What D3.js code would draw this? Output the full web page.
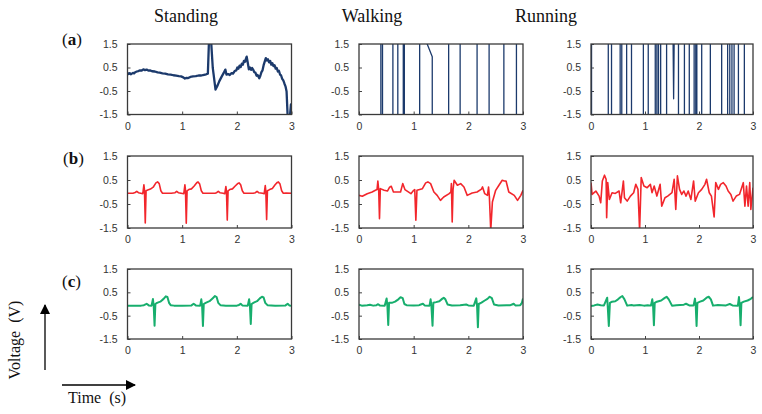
<!DOCTYPE html>
<html><head><meta charset="utf-8">
<script src="https://cdn.jsdelivr.net/npm/d3@7"></script>
<style>body{margin:0;background:#fff}svg{display:block}</style>
</head><body>
<svg id="c" width="762" height="414"></svg>
<script>
const activities = ["Standing","Walking","Running"];
const rowLabels = ["a","b","c"];
const xTicks = [0,1,2,3];
const yTicks = [1.5,0.5,-0.5,-1.5];
const yTickLabels = ["1.5","0.5","-0.5","-1.5"];

// Row (a) raw signals
const standingA = [[0,0.27],[0.02,0.22],[0.04,0.26],[0.06,0.21],[0.08,0.24],[0.1,0.27],[0.12,0.25],[0.14,0.3],[0.17,0.33],[0.2,0.35],[0.23,0.38],[0.26,0.37],[0.29,0.42],[0.32,0.39],[0.35,0.41],[0.38,0.37],[0.41,0.38],[0.45,0.34],[0.5,0.33],[0.55,0.29],[0.59,0.28],[0.64,0.25],[0.69,0.24],[0.74,0.21],[0.79,0.2],[0.84,0.17],[0.89,0.15],[0.94,0.13],[0.98,0.12],[1.02,0.08],[1.05,0.03],[1.08,0.06],[1.11,0.05],[1.15,0.1],[1.2,0.12],[1.25,0.13],[1.3,0.16],[1.35,0.16],[1.4,0.19],[1.44,0.21],[1.47,0.24],[1.49,1.6],[1.53,1.6],[1.56,0.48],[1.61,-0.44],[1.65,-0.25],[1.68,-0.08],[1.72,0.1],[1.76,0.27],[1.79,0.41],[1.81,0.2],[1.84,0.22],[1.87,0.18],[1.9,0.26],[1.93,0.24],[1.96,0.35],[1.99,0.38],[2.01,0.5],[2.03,0.45],[2.05,0.58],[2.07,0.52],[2.09,0.66],[2.11,0.62],[2.13,0.78],[2.15,0.74],[2.17,0.9],[2.18,0.96],[2.2,0.7],[2.22,0.42],[2.24,0.5],[2.26,0.4],[2.28,0.48],[2.3,0.4],[2.32,0.3],[2.34,0.28],[2.36,0.15],[2.38,0.18],[2.41,0.04],[2.43,0.15],[2.45,0.3],[2.47,0.38],[2.49,0.6],[2.51,0.75],[2.53,0.9],[2.55,0.8],[2.57,0.85],[2.59,0.72],[2.61,0.78],[2.63,0.62],[2.65,0.68],[2.67,0.56],[2.69,0.6],[2.71,0.45],[2.73,0.48],[2.75,0.33],[2.77,0.36],[2.79,0.2],[2.81,0.16],[2.83,0.02],[2.85,-0.05],[2.87,-0.18],[2.89,-0.3],[2.91,-0.52],[2.93,-1.6],[2.97,-1.6],[2.99,-1.07],[3,-1.6]];
const walkingA = [[0,-1.6],[0.40,-1.6],[0.40,1.6],[0.43,1.6],[0.43,-1.6],[0.62,-1.6],[0.62,1.6],[0.71,1.6],[0.71,-1.6],[0.81,-1.6],[0.81,1.6],[0.83,1.6],[0.83,-1.6],[1.11,-1.6],[1.11,1.6],[1.23,1.6],[1.34,0.96],[1.34,-1.6],[1.64,-1.6],[1.64,1.6],[1.85,1.6],[1.85,-1.6],[2.16,-1.6],[2.16,1.6],[2.38,1.6],[2.38,-1.6],[2.65,-1.6],[2.65,1.6],[2.88,1.6],[2.88,-1.6],[3,-1.6]];
const runningA = [[0,1.6],[0.01,1.6],[0.01,-1.6],[0.32,-1.6],[0.32,1.6],[0.38,1.6],[0.38,-1.6],[0.54,-1.6],[0.54,1.6],[0.57,1.6],[0.57,-1.6],[0.66,-1.6],[0.66,1.6],[0.75,1.6],[0.75,-1.6],[0.97,-1.6],[0.97,1.6],[1.06,1.6],[1.06,-1.6],[1.19,-1.6],[1.19,1.6],[1.22,1.6],[1.22,-1.6],[1.25,-1.6],[1.25,1.6],[1.29,1.6],[1.29,-1.6],[1.40,-1.6],[1.40,1.6],[1.52,1.6],[1.53,-0.83],[1.54,1.6],[1.62,1.6],[1.62,-1.6],[1.73,-1.6],[1.73,1.6],[1.82,1.6],[1.82,-1.6],[1.91,-1.6],[1.91,1.6],[1.94,1.6],[1.94,-1.6],[1.96,-1.6],[1.96,1.6],[2.05,1.6],[2.05,-1.6],[2.21,-1.6],[2.21,1.6],[2.42,1.6],[2.42,-1.6],[2.53,-1.6],[2.53,1.6],[2.57,1.6],[2.57,-1.6],[2.61,-1.6],[2.61,1.6],[2.65,1.6],[2.65,-1.6],[2.73,-1.6],[2.73,1.6],[2.84,1.6],[2.84,-1.6],[3,-1.6]];

// Row (b)
const standingB = [[0,-0.05],[0.1,-0.05],[0.14,-0.02],[0.17,0.03],[0.2,-0.03],[0.24,-0.05],[0.28,-0.07],[0.3,0.3],[0.31,0.1],[0.325,-1.29],[0.34,0.05],[0.37,0.08],[0.42,0.12],[0.47,0.2],[0.52,0.38],[0.55,0.42],[0.58,0.35],[0.61,0.05],[0.64,-0.05],[0.8,-0.05],[0.87,-0.03],[0.9,0.03],[0.93,-0.03],[0.98,-0.05],[1.03,-0.07],[1.05,0.3],[1.06,0.1],[1.075,-1.3],[1.09,0.05],[1.12,0.1],[1.17,0.13],[1.22,0.25],[1.27,0.4],[1.29,0.42],[1.32,0.33],[1.35,0.05],[1.38,-0.05],[1.6,-0.05],[1.63,-0.03],[1.66,0.03],[1.69,-0.03],[1.75,-0.05],[1.78,-0.07],[1.8,0.23],[1.81,0.05],[1.825,-1.17],[1.84,0.05],[1.87,0.1],[1.92,0.13],[1.97,0.25],[2.02,0.36],[2.04,0.38],[2.07,0.3],[2.1,0.05],[2.13,-0.05],[2.3,-0.05],[2.34,-0.03],[2.37,0.03],[2.4,-0.03],[2.47,-0.05],[2.5,-0.07],[2.52,0.27],[2.53,0.05],[2.545,-1.15],[2.56,0.05],[2.6,0.1],[2.65,0.15],[2.7,0.3],[2.74,0.4],[2.76,0.42],[2.79,0.33],[2.82,0.05],[2.85,-0.05],[2.9,-0.04],[3,-0.05]];
const walkingB = [[0,-0.14],[0.06,-0.18],[0.15,-0.07],[0.24,0.0],[0.3,0.07],[0.33,0.1],[0.345,0.46],[0.36,0.1],[0.375,-1.11],[0.39,0.14],[0.46,0.07],[0.52,0.04],[0.56,0.2],[0.59,0.24],[0.63,0.0],[0.76,0.0],[0.8,0.35],[0.84,0.1],[0.95,-0.07],[1.0,0.07],[1.02,0.1],[1.04,-1.18],[1.06,0.07],[1.16,0.14],[1.22,0.38],[1.26,0.42],[1.31,0.35],[1.37,0.0],[1.43,-0.14],[1.49,-0.35],[1.55,-0.21],[1.65,-0.07],[1.68,0.0],[1.69,0.35],[1.705,-1.25],[1.72,0.1],[1.74,0.49],[1.8,0.28],[1.86,0.35],[1.92,0.21],[1.98,-0.14],[2.07,-0.04],[2.16,0.0],[2.24,0.12],[2.26,0.21],[2.3,-0.07],[2.35,-0.14],[2.37,0.21],[2.385,-0.2],[2.41,-1.6],[2.44,-0.42],[2.5,0.07],[2.56,0.28],[2.62,0.49],[2.66,0.46],[2.69,0.46],[2.74,0.0],[2.84,-0.14],[2.9,-0.35],[2.96,-0.14],[3.0,0.07]];
const runningB = [[0,0.39],[0.02,-0.1],[0.09,0.04],[0.15,-0.17],[0.18,-0.45],[0.21,0.46],[0.25,0.7],[0.28,0.53],[0.29,-1.07],[0.31,0.39],[0.34,-0.31],[0.39,-0.03],[0.45,-0.06],[0.52,0.04],[0.55,-0.45],[0.6,0.46],[0.62,-0.24],[0.67,-0.38],[0.73,-0.17],[0.79,-0.03],[0.83,0.32],[0.87,0.11],[0.9,-1.6],[0.93,0.6],[0.98,0.25],[1.04,0.18],[1.1,0.32],[1.13,-0.03],[1.17,0.25],[1.22,-0.17],[1.28,0.32],[1.31,-0.59],[1.37,-0.24],[1.42,-0.17],[1.5,-0.03],[1.54,0.53],[1.57,-0.73],[1.6,0.67],[1.64,0.11],[1.68,-0.1],[1.72,0.04],[1.76,-0.17],[1.8,0.04],[1.85,-0.31],[1.9,0.46],[1.93,-0.38],[1.99,-0.03],[2.05,0.11],[2.11,0.32],[2.14,0.53],[2.19,-0.03],[2.23,-0.17],[2.28,-1.04],[2.31,0.39],[2.36,0.11],[2.4,0.32],[2.45,0.39],[2.5,0.25],[2.54,0.04],[2.59,-0.1],[2.63,-0.38],[2.69,-0.17],[2.75,-0.1],[2.82,0.39],[2.85,-0.59],[2.88,0.25],[2.91,-0.59],[2.94,0.39],[2.96,-0.73],[3.0,0.18]];

// Row (c)
const standingC = [[0,-0.07],[0.25,-0.07],[0.3,-0.05],[0.35,0.01],[0.39,-0.06],[0.44,-0.07],[0.465,0.21],[0.48,-0.1],[0.495,-0.93],[0.51,0.0],[0.54,0.05],[0.6,0.1],[0.66,0.22],[0.7,0.33],[0.73,0.3],[0.76,0.05],[0.79,-0.05],[0.85,-0.07],[1.0,-0.07],[1.17,-0.06],[1.21,0.01],[1.25,-0.06],[1.33,-0.07],[1.35,0.2],[1.365,-0.1],[1.38,-0.94],[1.395,0.0],[1.43,0.05],[1.5,0.12],[1.56,0.25],[1.6,0.34],[1.63,0.3],[1.66,0.05],[1.7,-0.05],[1.8,-0.07],[2.0,-0.07],[2.04,-0.04],[2.07,0.01],[2.1,-0.06],[2.2,-0.07],[2.225,0.2],[2.24,-0.1],[2.255,-0.86],[2.27,0.0],[2.31,0.06],[2.37,0.12],[2.42,0.24],[2.46,0.31],[2.49,0.28],[2.52,0.05],[2.56,-0.05],[2.7,-0.07],[2.89,-0.06],[2.93,0.01],[2.96,-0.06],[3,-0.07]];
const walkingC = [[0,-0.03],[0.05,-0.07],[0.15,-0.05],[0.2,-0.03],[0.26,-0.07],[0.32,-0.05],[0.35,-0.01],[0.38,-0.06],[0.47,-0.07],[0.505,0.24],[0.52,-0.1],[0.535,-0.9],[0.55,0.05],[0.6,0.05],[0.66,0.1],[0.72,0.2],[0.76,0.29],[0.8,0.25],[0.83,0.0],[0.87,-0.05],[1.0,-0.06],[1.1,-0.05],[1.13,-0.02],[1.17,0.01],[1.2,-0.06],[1.29,-0.07],[1.31,0.2],[1.325,-0.1],[1.345,-0.93],[1.36,0.05],[1.41,0.08],[1.47,0.12],[1.52,0.22],[1.55,0.27],[1.58,0.2],[1.62,-0.02],[1.7,-0.06],[1.85,-0.05],[1.96,-0.02],[2.0,-0.06],[2.1,-0.07],[2.145,0.24],[2.16,-0.1],[2.175,-1.0],[2.19,0.0],[2.24,0.06],[2.3,0.15],[2.35,0.22],[2.39,0.31],[2.43,0.25],[2.47,-0.02],[2.55,-0.06],[2.7,-0.05],[2.77,-0.05],[2.8,-0.02],[2.83,0.01],[2.86,-0.06],[2.95,-0.05],[2.98,0.05],[3.0,0.24]];
const runningC = [[0,-0.09],[0.06,-0.06],[0.12,-0.02],[0.18,-0.05],[0.24,-0.06],[0.3,0.27],[0.31,-0.1],[0.33,-0.94],[0.35,0.05],[0.39,0.1],[0.45,0.12],[0.5,0.2],[0.55,0.3],[0.58,0.34],[0.62,0.2],[0.67,-0.07],[0.75,-0.04],[0.79,-0.06],[0.9,-0.04],[0.98,-0.07],[1.05,-0.05],[1.11,-0.07],[1.135,0.2],[1.15,-0.1],[1.165,-0.91],[1.18,0.05],[1.22,0.1],[1.3,0.15],[1.36,0.25],[1.4,0.31],[1.44,0.2],[1.5,-0.07],[1.58,-0.05],[1.65,-0.04],[1.72,-0.03],[1.76,0.01],[1.82,-0.06],[1.9,-0.06],[1.925,0.23],[1.94,-0.1],[1.955,-0.94],[1.97,0.05],[2.02,0.1],[2.08,0.15],[2.14,0.27],[2.18,0.31],[2.22,0.2],[2.26,-0.07],[2.35,-0.04],[2.42,-0.05],[2.5,-0.06],[2.57,0.0],[2.62,-0.06],[2.72,-0.07],[2.74,0.3],[2.755,-0.1],[2.77,-0.91],[2.785,0.05],[2.83,0.1],[2.9,0.15],[2.96,0.22],[3.0,0.3]];

const seriesGrid = [[standingA,walkingA,runningA],[standingB,walkingB,runningB],[standingC,walkingC,runningC]];
const rowColors = ["#1c3a6c","#f2262c","#17ae6d"];

// layout
const rowBox = [[44,114.5],[156,228],[269,339]];
const colBox = [[127.5,291.5],[359,523],[591,753]];
const rowWidth = [[2.3,1.3,1.3],[1.6,1.6,1.6],[2,2,2]];

const svg = d3.select("#c");
const defs = svg.append("defs");

seriesGrid.forEach((row, r) => {
  row.forEach((data, c) => {
    const [x0,x1] = colBox[c];
    const [y0,y1] = rowBox[r];
    const x = d3.scaleLinear().domain([0,3]).range([x0,x1]);
    const y = d3.scaleLinear().domain([-1.5,1.5]).range([y1,y0]);
    const id = `clip${r}${c}`;
    defs.append("clipPath").attr("id", id).append("rect")
      .attr("x", x0).attr("y", y0).attr("width", x1-x0).attr("height", y1-y0);
    const g = svg.append("g");
    const ax = g.append("g").attr("transform", `translate(0,${y1})`)
      .call(d3.axisBottom(x).tickValues(xTicks).tickFormat(d3.format("d")).tickSizeInner(-3).tickSizeOuter(0).tickPadding(8));
    const ay = g.append("g").attr("transform", `translate(${x0},0)`)
      .call(d3.axisLeft(y).tickValues(yTicks).tickFormat((d,i)=>yTickLabels[i]).tickSizeInner(-3).tickSizeOuter(0).tickPadding(10));
    [ax, ay].forEach(a => {
      a.select(".domain").remove();
      a.selectAll("line").attr("stroke", "#444");
      a.selectAll("text").attr("font-family", "Liberation Sans, Arial, sans-serif")
        .attr("font-size", "10.5px").attr("fill", "#333");
    });
    g.append("path").datum(data)
      .attr("clip-path", `url(#${id})`)
      .attr("fill", "none").attr("stroke", rowColors[r])
      .attr("stroke-width", rowWidth[r][c]).attr("stroke-linejoin", "round")
      .attr("d", d3.line().x(d => x(d[0])).y(d => y(d[1])));
    g.append("rect").attr("x", x0).attr("y", y0).attr("width", x1-x0).attr("height", y1-y0)
      .attr("fill", "none").attr("stroke", "#3a3a3a").attr("stroke-width", 1.3);
  });
});

// column titles
const titleX = [186, 372, 546];
svg.selectAll(".title").data(activities).join("text")
  .attr("x", (d,i) => titleX[i]).attr("y", 22).attr("text-anchor", "middle")
  .attr("font-family", "Liberation Serif, serif").attr("font-size", "18px").attr("fill", "#111")
  .text(d => d);

// row labels
const rowLabelPos = [[62,45],[63,164],[62,287]];
svg.selectAll(".rl").data(rowLabels).join("text")
  .attr("x", (d,i) => rowLabelPos[i][0]).attr("y", (d,i) => rowLabelPos[i][1])
  .attr("font-family", "Liberation Serif, serif").attr("font-size", "17px").attr("fill", "#111")
  .html(d => `(<tspan font-weight="bold">${d}</tspan>)`);

// axis arrows
const mk = defs.append("marker").attr("id","arr").attr("viewBox","0 0 10 10")
  .attr("refX", 9).attr("refY", 5).attr("markerWidth", 10).attr("markerHeight", 10)
  .attr("markerUnits","userSpaceOnUse").attr("orient","auto");
mk.append("path").attr("d","M0,0L10,5L0,10Z").attr("fill","#000");
svg.append("line").attr("x1",45).attr("y1",370).attr("x2",45).attr("y2",305)
  .attr("stroke","#000").attr("stroke-width",1.3).attr("marker-end","url(#arr)");
svg.append("line").attr("x1",62).attr("y1",385).attr("x2",135).attr("y2",385)
  .attr("stroke","#000").attr("stroke-width",1.3).attr("marker-end","url(#arr)");
svg.append("text").attr("transform","translate(20,340) rotate(-90)").attr("text-anchor","middle")
  .attr("font-family","Liberation Serif, serif").attr("font-size","16px").attr("fill","#111")
  .attr("xml:space","preserve").text("Voltage  (V)");
svg.append("text").attr("x",68).attr("y",403)
  .attr("font-family","Liberation Serif, serif").attr("font-size","16px").attr("fill","#111")
  .attr("xml:space","preserve").text("Time  (s)");
</script>
</body></html>
